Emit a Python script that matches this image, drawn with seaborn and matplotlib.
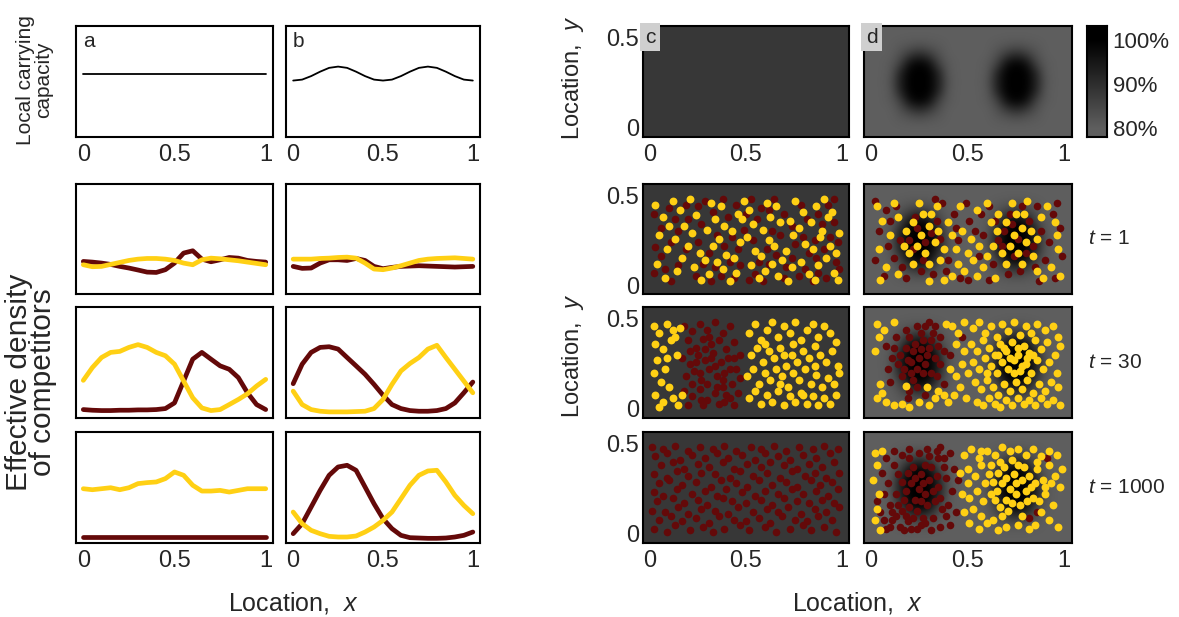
import numpy as np
import pandas as pd
import matplotlib
matplotlib.use("Agg")
import matplotlib.pyplot as plt
import seaborn as sns
from matplotlib.colors import LinearSegmentedColormap

sns.set_theme(style="white")
plt.rcParams['font.family'] = ['Liberation Sans', 'DejaVu Sans']
plt.rcParams['mathtext.fontset'] = 'custom'
plt.rcParams['mathtext.it'] = 'Liberation Sans:italic'
plt.rcParams['mathtext.rm'] = 'Liberation Sans'

RED = "#640909"
YEL = "#ffd014"

# ---------------- data ----------------
x_grid = [0, .05, .1, .15, .2, .25, .3, .35, .4, .45, .5,
          .55, .6, .65, .7, .75, .8, .85, .9, .95, 1]

cap_a = [1.0] * 21
cap_b = [0.89, 0.905, 0.96, 1.03, 1.09, 1.11, 1.09, 1.03, 0.96, 0.905, 0.89,
         0.905, 0.96, 1.03, 1.09, 1.11, 1.09, 1.03, 0.96, 0.905, 0.89]

# effective density (fraction of panel height)
a1_red = [.296, .290, .281, .269, .251, .236, .218, .199, .196, .221, .281,
          .372, .393, .317, .293, .311, .332, .326, .305, .296, .290]
a1_yel = [.266, .248, .251, .269, .287, .305, .317, .323, .323, .317, .305,
          .281, .266, .311, .326, .320, .311, .302, .290, .278, .266]
b1_red = [.251, .233, .236, .281, .311, .311, .305, .323, .305, .251, .230,
          .242, .251, .254, .257, .254, .251, .248, .245, .248, .251]
b1_yel = [.317, .317, .317, .323, .326, .332, .335, .326, .281, .227, .221,
          .236, .257, .281, .305, .317, .323, .326, .329, .323, .317]
a30_red = [.076, .070, .067, .067, .070, .070, .073, .073, .076, .085, .136,
           .333, .530, .591, .530, .470, .439, .364, .227, .121, .076]
a30_yel = [.339, .455, .545, .591, .600, .636, .661, .636, .591, .561, .485,
           .333, .182, .091, .067, .076, .121, .167, .218, .288, .348]
b30_red = [.309, .485, .591, .636, .642, .621, .545, .470, .394, .303, .206,
           .121, .085, .067, .061, .061, .067, .085, .136, .227, .324]
b30_yel = [.242, .121, .076, .061, .055, .055, .055, .058, .061, .085, .167,
           .303, .424, .491, .545, .621, .655, .545, .439, .333, .227]
a1000_red = [.054] * 21
a1000_yel = [.489, .480, .489, .498, .480, .498, .535, .544, .550, .580, .640,
             .610, .520, .468, .468, .474, .459, .474, .489, .489, .489]
b1000_red = [.084, .174, .324, .474, .610, .685, .700, .655, .505, .354, .219,
             .129, .069, .048, .045, .042, .042, .045, .054, .069, .099]
b1000_yel = [.279, .174, .114, .084, .060, .054, .054, .063, .099, .144, .204,
             .279, .399, .520, .610, .649, .655, .550, .429, .339, .264]

# relative carrying capacity (%) maps, x = 0..1 step .05, y = 0..0.5 step .05
cap_c_value = 88
cap_d_grid = [
    [80] * 21,
    [80, 80, 80, 81, 82, 83, 82, 81, 80, 80, 80, 80, 80, 81, 82, 83, 82, 81, 80, 80, 80],
    [80, 80, 80, 83, 88, 91, 88, 83, 80, 80, 80, 80, 80, 83, 88, 91, 88, 83, 80, 80, 80],
    [80, 80, 81, 86, 97, 100, 97, 86, 81, 80, 80, 80, 81, 86, 97, 100, 97, 86, 81, 80, 80],
    [80, 80, 81, 92, 100, 100, 100, 92, 81, 80, 80, 80, 81, 92, 100, 100, 100, 92, 81, 80, 80],
    [80, 80, 82, 93, 100, 100, 100, 93, 82, 80, 80, 80, 82, 93, 100, 100, 100, 93, 82, 80, 80],
    [80, 80, 81, 92, 100, 100, 100, 92, 81, 80, 80, 80, 81, 92, 100, 100, 100, 92, 81, 80, 80],
    [80, 80, 81, 86, 97, 100, 97, 86, 81, 80, 80, 80, 81, 86, 97, 100, 97, 86, 81, 80, 80],
    [80, 80, 80, 83, 88, 91, 88, 83, 80, 80, 80, 80, 80, 83, 88, 91, 88, 83, 80, 80, 80],
    [80, 80, 80, 81, 82, 83, 82, 81, 80, 80, 80, 80, 80, 81, 82, 83, 82, 81, 80, 80, 80],
    [80] * 21,
]
cbar_ticks = [80, 90, 100]
cbar_labels = ["80%", "90%", "100%"]

# individuals (x, y) in hundredths of the unit
c1_yel = [(3,45),(7,38),(12,47),(5,28),(9,20),(4,12),(8,4),(14,8),(17,15),(13,26),(18,33),(16,42),(21,48),(24,39),(22,29),(26,18),(23,10),(27,3),(31,6),(29,14),(33,22),(30,31),(34,37),(32,46),(37,44),(39,33),(36,26),(40,17),(38,9),(42,2),(45,7),(44,15),(47,24),(43,30),(46,40),(49,47),(52,42),(54,34),(51,27),(55,19),(53,11),(57,4),(60,8),(58,16),(62,25),(59,31),(63,38),(61,46),(66,44),(68,35),(65,22),(69,14),(67,5),(72,2),(74,10),(71,19),(75,28),(73,36),(76,47),(80,41),(78,32),(81,23),(79,13),(83,6),(86,3),(88,11),(85,20),(89,27),(84,35),(87,44),(91,48),(93,38),(90,30),(94,22),(92,15),(96,7),(98,3),(97,18),(99,29),(95,41),(20,22),(48,37),(64,12),(35,13),(10,33)]
c1_red = [(2,40),(6,32),(10,43),(11,24),(6,16),(2,7),(11,2),(15,11),(19,20),(15,30),(20,37),(19,45),(25,44),(27,34),(25,24),(28,12),(24,5),(32,2),(34,10),(31,18),(35,28),(33,41),(38,48),(41,38),(39,22),(42,13),(44,4),(47,11),(46,20),(49,31),(45,45),(50,40),(53,48),(56,37),(54,25),(57,13),(55,6),(59,2),(62,12),(61,20),(64,30),(62,42),(65,48),(70,40),(68,28),(71,10),(70,4),(74,15),(76,23),(74,33),(79,45),(82,37),(80,27),(83,18),(81,9),(85,2),(88,7),(87,15),(86,25),(90,34),(88,40),(93,45),(96,35),(94,27),(97,13),(92,4),(99,9),(98,24),(96,48),(13,37),(37,5),(66,17),(52,3),(43,27),(78,5),(58,43),(29,47),(8,9),(3,21),(91,20)]
d1_yel = [(18,30),(22,35),(26,28),(30,33),(24,22),(28,18),(33,24),(20,18),(35,30),(31,40),(27,40),(38,20),(22,12),(30,12),(36,14),(40,35),(42,28),(17,22),(34,44),(25,46),(65,30),(70,35),(74,28),(78,32),(72,22),(76,18),(80,24),(68,18),(83,30),(79,40),(75,40),(63,22),(70,12),(78,12),(84,16),(66,40),(86,26),(62,35),(73,46),(81,47),(45,12),(50,18),(48,8),(53,14),(56,22),(58,10),(44,20),(52,26),(47,30),(55,5),(60,16),(42,5),(3,44),(6,36),(4,20),(8,10),(5,3),(12,46),(10,28),(14,6),(91,44),(95,35),(97,20),(93,10),(98,5),(88,38),(89,4),(60,46),(55,42),(46,44),(38,3),(30,2),(14,38),(64,4),(86,8),(96,28)]
d1_red = [(2,47),(8,42),(13,44),(4,30),(2,14),(7,5),(12,15),(10,36),(16,10),(20,25),(24,32),(28,24),(23,38),(18,4),(26,8),(32,6),(34,36),(37,46),(40,14),(36,26),(39,8),(43,40),(45,25),(49,46),(51,36),(54,30),(57,40),(50,3),(46,4),(58,28),(61,44),(63,12),(66,25),(69,30),(72,40),(71,6),(74,16),(77,8),(80,18),(82,36),(84,22),(86,44),(88,30),(90,14),(92,24),(94,40),(96,46),(98,32),(95,4),(99,16),(76,26),(73,34),(68,22),(27,14),(22,20),(31,29),(64,36),(85,10),(15,25),(33,48),(56,16),(44,32),(78,44),(9,22),(87,2),(61,3)]
c30_yel = [(2,46),(5,42),(9,47),(12,44),(3,36),(7,33),(11,38),(14,30),(4,27),(2,20),(8,22),(6,15),(10,12),(3,8),(7,4),(12,6),(15,2),(5,1),(17,8),(13,40),(9,28),(16,45),(52,42),(55,47),(58,38),(61,44),(64,48),(67,40),(70,46),(73,42),(76,48),(79,38),(82,44),(85,47),(88,40),(91,46),(94,42),(97,37),(53,30),(56,34),(59,26),(62,32),(65,28),(68,34),(71,24),(74,30),(77,26),(80,32),(83,28),(86,35),(89,30),(92,26),(95,32),(98,24),(51,18),(54,22),(57,14),(60,20),(63,16),(66,22),(69,18),(72,12),(75,20),(78,16),(81,22),(84,14),(87,19),(90,12),(93,17),(96,14),(99,20),(52,6),(55,10),(58,3),(61,8),(64,4),(67,10),(70,2),(73,7),(76,4),(79,9),(82,3),(85,7),(88,2),(91,6),(94,3),(97,8),(60,36),(70,30),(80,8),(68,14),(86,24),(75,36)]
c30_red = [(18,46),(22,43),(26,47),(30,44),(34,48),(38,42),(42,46),(20,38),(24,34),(28,39),(32,36),(36,38),(40,33),(44,37),(47,30),(17,28),(21,25),(25,30),(29,27),(33,31),(37,26),(41,28),(45,22),(19,18),(23,21),(27,16),(31,22),(35,18),(39,20),(43,14),(47,17),(18,10),(22,7),(26,11),(30,5),(34,9),(38,12),(42,6),(46,9),(20,2),(28,2),(36,3),(44,2),(24,26),(30,14),(34,24),(40,8),(26,20),(32,28),(38,16),(22,14),(29,33),(35,12),(42,22),(21,32),(27,5),(44,28),(31,40),(39,4)]
d30_red = [(25,28),(22,32),(28,25),(19,27),(30,34),(24,22),(18,34),(27,38),(33,28),(21,20),(15,30),(31,20),(26,42),(35,35),(17,22),(23,36),(29,30),(20,40),(32,42),(14,25),(36,25),(28,46),(30,48),(24,46),(12,34),(16,18),(22,16),(34,18),(38,32),(11,28),(33,46),(18,44),(26,33),(31,38),(21,26),(27,20),(13,40),(36,40),(9,22),(24,12),(28,8),(20,10),(38,14),(41,30),(47,40),(10,15),(19,6),(8,35)]
d30_yel = [(3,47),(7,44),(12,48),(4,40),(2,32),(5,14),(3,6),(8,4),(12,2),(6,9),(16,3),(20,1),(25,4),(30,2),(33,6),(29,12),(35,10),(18,13),(40,4),(43,8),(38,8),(42,46),(45,42),(39,47),(48,48),(44,36),(41,22),(44,18),(47,25),(46,12),(48,32),(50,20),(49,6),(53,45),(56,48),(59,42),(62,46),(65,40),(68,47),(71,43),(74,48),(77,41),(80,46),(83,42),(86,47),(90,44),(94,46),(97,40),(52,36),(55,32),(58,38),(61,34),(64,30),(67,36),(70,32),(73,37),(76,30),(79,35),(82,31),(85,38),(88,33),(91,37),(95,30),(98,35),(53,26),(56,22),(59,28),(62,24),(65,20),(68,26),(71,22),(74,27),(77,21),(80,25),(83,20),(86,27),(89,22),(92,26),(96,20),(54,15),(57,11),(60,16),(63,12),(66,8),(69,14),(72,10),(75,15),(78,11),(81,16),(84,9),(87,14),(90,10),(93,15),(97,12),(55,4),(58,2),(61,6),(64,3),(67,1),(70,5),(73,2),(76,6),(79,3),(82,5),(85,2),(88,6),(91,3),(94,5),(98,2),(66,30),(72,28),(78,24),(74,20),(69,34),(81,28),(60,20),(84,30),(76,34)]
c1000_red = [(2,3),(9,1),(13,5),(21,2),(28,4),(33,1),(39,3),(47,5),(52,2),(60,4),(66,1),(73,3),(80,5),(84,2),(91,4),(97,1),(5,8),(11,10),(17,7),(24,9),(31,6),(36,10),(44,8),(50,7),(57,9),(63,6),(69,10),(76,8),(82,7),(88,10),(95,8),(1,13),(8,12),(15,15),(20,11),(27,14),(34,13),(41,11),(46,15),(54,12),(61,14),(67,12),(72,15),(79,11),(86,14),(92,12),(99,15),(4,18),(12,20),(18,17),(25,19),(30,16),(38,20),(43,18),(50,17),(58,19),(64,16),(70,20),(77,18),(83,17),(90,19),(96,17),(2,23),(7,21),(14,25),(22,22),(29,24),(35,21),(40,25),(48,23),(55,21),(60,24),(67,22),(74,25),(80,22),(87,24),(93,21),(98,25),(5,28),(10,30),(17,27),(24,29),(32,26),(37,30),(45,28),(51,26),(57,30),(64,27),(71,29),(77,26),(84,30),(89,27),(95,29),(2,33),(9,31),(14,35),(20,32),(27,34),(34,33),(42,31),(47,35),(54,32),(61,34),(68,31),(74,35),(81,32),(86,34),(92,31),(99,34),(6,38),(12,40),(18,36),(25,39),(31,37),(38,40),(44,36),(51,39),(58,37),(63,40),(70,38),(77,36),(83,39),(90,37),(96,40),(3,43),(9,45),(16,41),(22,44),(29,42),(35,45),(41,42),(48,44),(55,41),(60,45),(67,43),(73,41),(80,44),(87,42),(94,45),(1,48),(7,47),(13,49),(20,46),(26,48),(33,47),(39,49),(45,46),(53,48),(58,47),(65,49),(71,46),(78,48),(85,47),(91,49),(98,47)]
d1000_red = [(25,25),(21,28),(28,22),(18,24),(30,30),(23,19),(26,33),(19,34),(32,24),(16,29),(29,16),(22,37),(34,32),(24,13),(20,15),(33,18),(27,28),(17,19),(31,37),(14,33),(35,26),(23,31),(28,38),(26,18),(36,20),(8,42),(12,46),(16,44),(20,47),(25,45),(30,43),(34,46),(38,42),(41,45),(36,48),(6,34),(9,28),(7,22),(10,16),(5,12),(11,8),(15,4),(19,7),(24,3),(28,6),(32,9),(36,4),(39,10),(40,16),(42,24),(39,31),(43,36),(12,38),(13,22),(38,37),(44,12),(8,3),(20,42),(31,2),(37,14),(45,30),(3,18),(11,12),(27,9),(35,42),(18,10),(14,16),(29,47),(41,5),(10,4),(13,10),(17,2),(22,9),(26,5),(7,8),(16,13),(21,3),(86,12),(91,42),(82,9)]
d1000_yel = [(2,45),(3,38),(1,30),(4,22),(2,8),(5,2),(6,46),(3,14),(72,25),(68,28),(75,22),(65,24),(78,30),(70,19),(74,33),(66,34),(80,24),(63,29),(77,16),(69,37),(82,32),(71,13),(67,15),(81,18),(75,28),(64,19),(79,37),(61,33),(83,26),(70,31),(76,38),(73,17),(84,20),(62,22),(73,41),(68,10),(78,10),(48,44),(52,47),(56,42),(60,46),(64,44),(68,48),(72,46),(76,47),(80,44),(84,47),(88,43),(92,46),(96,44),(50,36),(54,32),(57,38),(59,28),(55,24),(51,20),(53,14),(57,10),(60,6),(56,3),(51,6),(48,12),(50,28),(86,36),(89,30),(92,38),(95,32),(98,26),(90,22),(94,16),(88,12),(92,8),(97,4),(85,5),(82,3),(76,5),(70,4),(66,2),(63,8),(86,40),(62,38),(58,18),(47,22),(46,34),(90,26),(87,18),(93,28),(99,36),(57,46),(67,40),(85,28)]

t_labels = ["1", "30", "1000"]

# ---------------- figure ----------------
W, H = 1179, 617
fig = plt.figure(figsize=(W / 100, H / 100), dpi=100)

def ax_at(x0, y0, x1, y1):
    return fig.add_axes([x0 / W, 1 - y1 / H, (x1 - x0) / W, (y1 - y0) / H])

cmap = LinearSegmentedColormap.from_list("cap", ["#5e5e5e", "#2e2e2e", "#000000"])

TICK = 17
def style(ax, xt=False, yt=False):
    for s in ax.spines.values():
        s.set_visible(True)
        s.set_linewidth(1.5)
        s.set_color("black")
    ax.tick_params(length=0, labelsize=TICK, pad=5)
    if xt:
        ax.set_xticks([0, 0.5, 1])
        ax.set_xticklabels(["0", "0.5", "1"])
    else:
        ax.set_xticks([])
    if yt:
        ax.set_yticks([0, 0.5])
        ax.set_yticklabels(["0", "0.5"])
        ax.tick_params(axis="y", pad=3)
    else:
        ax.set_yticks([])
    ax.set_xlabel("")
    ax.set_ylabel("")

L_X = [(76, 273), (286, 480)]
R_X = [(643, 849), (864, 1072)]
TOP = (26, 137)
ROWS = [(184, 294), (307, 418), (432, 543)]

# top left capacity panels
for (x0, x1), cap, letter in zip(L_X, [cap_a, cap_b], ["a", "b"]):
    ax = ax_at(x0, TOP[0], x1, TOP[1])
    sns.lineplot(x=x_grid, y=cap, color="black", linewidth=1.3, ax=ax)
    ax.set_xlim(-0.04, 1.04)
    ax.set_ylim(0, 1.75)
    style(ax, xt=True)
    ax.text(0.035, 0.95, letter, transform=ax.transAxes, ha="left", va="top", fontsize=15)

# density panels
dens = [[(a1_red, a1_yel), (b1_red, b1_yel)],
        [(a30_red, a30_yel), (b30_red, b30_yel)],
        [(a1000_red, a1000_yel), (b1000_red, b1000_yel)]]
for r, (y0, y1) in enumerate(ROWS):
    for c, (x0, x1) in enumerate(L_X):
        ax = ax_at(x0, y0, x1, y1)
        red, yel = dens[r][c]
        sns.lineplot(x=x_grid, y=red, color=RED, linewidth=3.4, ax=ax)
        sns.lineplot(x=x_grid, y=yel, color=YEL, linewidth=3.4, ax=ax)
        ax.set_xlim(-0.04, 1.04)
        ax.set_ylim(0, 1)
        style(ax, xt=(r == 2))

# capacity maps
YLIM = (-0.05, 0.565)
def draw_map(ax, col):
    if col == 0:
        ax.imshow([[cap_c_value]], extent=(-0.2, 1.2, -0.2, 0.7), cmap=cmap,
                  vmin=80, vmax=100, aspect="auto")
    else:
        ax.set_facecolor(cmap(0.0))
        ax.imshow(np.array(cap_d_grid), origin="lower", extent=(-0.025, 1.025, -0.025, 0.525),
                  cmap=cmap, vmin=80, vmax=100, interpolation="bicubic", aspect="auto")

for c, (x0, x1) in enumerate(R_X):
    ax = ax_at(x0, TOP[0], x1, TOP[1])
    draw_map(ax, c)
    ax.set_xlim(-0.035, 1.04)
    ax.set_ylim(*YLIM)
    style(ax, xt=True, yt=(c == 0))
    ax.text(0.01, 0.985, "cd"[c], transform=ax.transAxes, ha="left", va="top", fontsize=15,
            bbox=dict(facecolor="#cfcfcf", edgecolor="none", pad=3.5))

scat = [[(c1_red, c1_yel), (d1_red, d1_yel)],
        [(c30_red, c30_yel), (d30_red, d30_yel)],
        [(c1000_red, []), (d1000_red, d1000_yel)]]
for r, (y0, y1) in enumerate(ROWS):
    for c, (x0, x1) in enumerate(R_X):
        ax = ax_at(x0, y0, x1, y1)
        draw_map(ax, c)
        red, yel = scat[r][c]
        pr = np.array(red, dtype=float) / 100
        sns.scatterplot(x=pr[:, 0], y=pr[:, 1], color=RED, s=30, linewidth=0, ax=ax, zorder=3)
        if len(yel):
            py = np.array(yel, dtype=float) / 100
            sns.scatterplot(x=py[:, 0], y=py[:, 1], color=YEL, s=32, linewidth=0, ax=ax, zorder=4)
        ax.set_xlim(-0.035, 1.04)
        ax.set_ylim(*YLIM)
        style(ax, xt=(r == 2), yt=(c == 0))
    fig.text(1088 / W, 1 - ((y0 + y1) / 2) / H, r"$\it{t}$ = " + t_labels[r],
             ha="left", va="center", fontsize=15)

# colorbar (gradient strip, ticks inset from the ends)
cax = ax_at(1087, TOP[0], 1107, TOP[1])
CB_LIM = (77.95, 103.2)
cax.imshow(np.linspace(CB_LIM[0], CB_LIM[1], 256).reshape(-1, 1), origin="lower",
           extent=(0, 1, CB_LIM[0], CB_LIM[1]), cmap=cmap, vmin=80, vmax=100, aspect="auto")
cax.set_xlim(0, 1)
cax.set_ylim(*CB_LIM)
cax.set_xticks([])
cax.yaxis.tick_right()
cax.set_yticks(cbar_ticks)
cax.set_yticklabels(cbar_labels)
cax.tick_params(length=0, labelsize=16, pad=4)
for s in cax.spines.values():
    s.set_visible(True)
    s.set_linewidth(1.5)
    s.set_color("black")

# labels
fig.text(35 / W, 1 - 80 / H, "Local carrying\ncapacity", rotation=90, ha="center", va="center",
         fontsize=15, linespacing=0.95)
fig.text(31 / W, 1 - 382 / H, "Effective density\nof competitors", rotation=90, ha="center",
         va="center", fontsize=21.5, linespacing=0.85)
fig.text(293 / W, 1 - 603 / H, r"Location,  $\it{x}$", ha="center", va="center", fontsize=18)
fig.text(857 / W, 1 - 603 / H, r"Location,  $\it{x}$", ha="center", va="center", fontsize=18)
fig.text(573 / W, 1 - 78 / H, r"Location,  $\it{y}$", rotation=90, ha="center", va="center", fontsize=17)
fig.text(573 / W, 1 - 356 / H, r"Location,  $\it{y}$", rotation=90, ha="center", va="center", fontsize=17)

fig.savefig("out.png", dpi=100)
